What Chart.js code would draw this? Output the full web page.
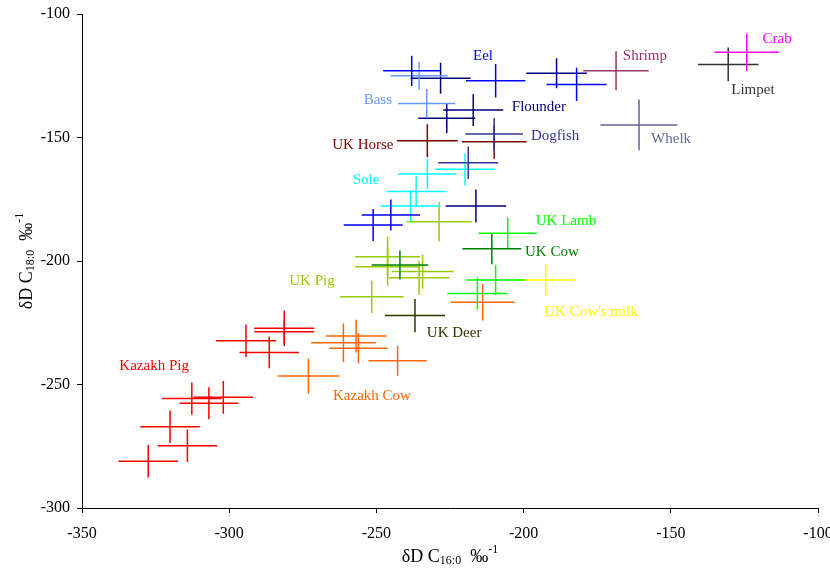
<!DOCTYPE html>
<html>
<head>
<meta charset="utf-8">
<script src="https://cdn.jsdelivr.net/npm/chart.js@4"></script>
<style>
  html, body { margin: 0; padding: 0; background: #fff; }
  #wrap { width: 830px; height: 574px; }
</style>
</head>
<body>
<div id="wrap"><canvas id="chart" width="830" height="574"></canvas></div>
<script>
// each point: [dD C16:0, dD C18:0, x error, y error]
const eel = [[-238.0, -123.0, 9.7, 6.1], [-209.5, -127.0, 10.1, 6.8], [-182.0, -128.5, 10.2, 6.7], [-251.1, -185.4, 10.0, 6.5], [-245.1, -181.4, 9.9, 6.3]];
const bass = [[-235.5, -125.0, 9.7, 5.7], [-232.9, -136.2, 9.7, 5.8]];
const flounder = [[-228.2, -126.0, 10.2, 6.3], [-188.8, -124.0, 10.3, 6.1], [-217.1, -138.9, 10.2, 6.4], [-226.1, -142.2, 9.7, 6.0], [-216.2, -177.7, 10.3, 6.6]];
const dogfish = [[-210.0, -148.6, 9.8, 6.5], [-218.8, -160.2, 10.2, 6.6]];
const ukHorse = [[-232.7, -151.3, 10.3, 6.7], [-210.0, -151.7, 11.0, 6.9]];
const shrimp = [[-168.6, -123.0, 11.1, 7.9]];
const crab = [[-124.2, -115.5, 11.0, 7.6]];
const limpet = [[-130.5, -120.4, 10.3, 6.8]];
const whelk = [[-160.8, -144.9, 13.1, 10.3]];
const sole = [[-232.7, -164.8, 9.9, 6.1], [-219.9, -162.9, 10.2, 6.5], [-236.5, -171.9, 10.0, 6.2], [-238.4, -177.7, 10.2, 6.4]];
const ukPig = [[-228.7, -184.1, 11.1, 7.9], [-246.2, -198.3, 11.0, 8.1], [-246.2, -202.3, 11.0, 7.7], [-234.3, -204.3, 10.5, 6.9], [-235.5, -206.8, 10.3, 6.9], [-251.6, -214.5, 10.8, 6.6]];
const ukCow = [[-210.8, -195.0, 10.0, 6.3], [-242.0, -201.6, 9.6, 5.9]];
const ukLamb = [[-205.4, -188.8, 9.9, 6.4], [-209.5, -207.7, 10.0, 6.1], [-215.7, -213.2, 10.2, 6.5]];
const ukCowMilk = [[-192.5, -207.7, 9.9, 6.4]];
const ukDeer = [[-236.9, -222.1, 10.2, 6.7]];
const kazakhCow = [[-213.9, -216.7, 10.8, 7.4], [-261.2, -233.1, 11.0, 7.8], [-256.9, -230.4, 10.3, 6.6], [-256.1, -235.3, 9.9, 6.1], [-242.8, -240.4, 9.9, 6.1], [-273.1, -246.6, 10.5, 7.1]];
const kazakhPig = [[-281.3, -227.2, 10.2, 7.2], [-281.3, -228.6, 10.2, 5.0], [-294.3, -232.3, 10.2, 6.6], [-286.4, -237.0, 10.1, 6.4], [-312.7, -255.7, 10.1, 6.5], [-306.9, -257.6, 10.0, 6.5], [-302.0, -255.2, 10.1, 6.6], [-320.1, -267.1, 10.1, 6.6], [-314.2, -274.8, 10.1, 6.6], [-327.5, -281.1, 10.1, 6.6]];

const xTicks = [-350, -300, -250, -200, -150, -100];
const yTicks = [-300, -250, -200, -150, -100];

// series: name, points, colour, label anchor (data coords)
const groups = [
  ['Kazakh Pig', kazakhPig, '#ff0000', -325.5, -242.5],
  ['Kazakh Cow', kazakhCow, '#ff6600', -251.5, -254.7],
  ['UK Deer', ukDeer, '#333300', -223.6, -229.1],
  ['UK Cow\'s milk', ukCowMilk, '#ffff00', -177.1, -220.6],
  ['UK Pig', ukPig, '#99cc00', -271.9, -208.1],
  ['UK Lamb', ukLamb, '#00ff00', -185.6, -183.8],
  ['UK Cow', ukCow, '#008000', -190.4, -196.4],
  ['Sole', sole, '#00ffff', -253.5, -167.2],
  ['UK Horse', ukHorse, '#800000', -254.6, -153.0],
  ['Dogfish', dogfish, '#333399', -189.3, -149.4],
  ['Flounder', flounder, '#000080', -194.8, -137.7],
  ['Bass', bass, '#6699ff', -249.5, -134.8],
  ['Eel', eel, '#0000ff', -213.8, -117.0],
  ['Whelk', whelk, '#666699', -149.9, -150.6],
  ['Shrimp', shrimp, '#993366', -158.8, -117.0],
  ['Limpet', limpet, '#333333', -122.1, -130.8],
  ['Crab', crab, '#ff00ff', -113.9, -110.1]
];

const serif = '"Liberation Serif", "Times New Roman", serif';
Chart.defaults.font.family = serif;
Chart.defaults.color = '#000';

// draw the error crosses and the series names
const crossPlugin = {
  id: 'crosses',
  afterDatasetsDraw(chart) {
    const { ctx, chartArea } = chart;
    const xs = chart.scales.x, ys = chart.scales.y;
    ctx.save();
    ctx.beginPath();
    ctx.rect(chartArea.left, chartArea.top, chartArea.width, chartArea.height);
    ctx.clip();
    ctx.lineWidth = 1.5;
    chart.data.datasets.forEach((ds) => {
      ctx.strokeStyle = ds.borderColor;
      ds.data.forEach((p) => {
        const cx = xs.getPixelForValue(p.x), cy = ys.getPixelForValue(p.y);
        ctx.beginPath();
        ctx.moveTo(xs.getPixelForValue(p.x - p.xErr), cy);
        ctx.lineTo(xs.getPixelForValue(p.x + p.xErr), cy);
        ctx.moveTo(cx, ys.getPixelForValue(p.y - p.yErr));
        ctx.lineTo(cx, ys.getPixelForValue(p.y + p.yErr));
        ctx.stroke();
      });
    });
    ctx.restore();

    ctx.save();
    ctx.font = '15px ' + serif;
    ctx.textAlign = 'center';
    ctx.textBaseline = 'middle';
    chart.data.datasets.forEach((ds) => {
      ctx.fillStyle = ds.borderColor;
      ctx.fillText(ds.label, xs.getPixelForValue(ds.labelX), ys.getPixelForValue(ds.labelY));
    });
    ctx.restore();
  },
  afterDraw(chart) {
    const { ctx, chartArea } = chart;
    const xTitle = [['δD C', 0], ['16:0', 1], ['  ‰', 0], ['-1', -1]];
    const yTitle = [['δD C', 0], ['18:0', 1], ['  ‰', 0], ['-1', -1]];
    drawTitle(ctx, xTitle, (chartArea.left + chartArea.right) / 2, chartArea.bottom + 49, 0);
    drawTitle(ctx, yTitle, 27, (chartArea.top + chartArea.bottom) / 2, -Math.PI / 2);
  }
};

function drawTitle(ctx, parts, x, y, angle) {
  ctx.save();
  ctx.translate(x, y);
  ctx.rotate(angle);
  ctx.fillStyle = '#000';
  ctx.textBaseline = 'middle';
  ctx.textAlign = 'left';
  const fontFor = (k) => (k === 0 ? '18px ' : '12px ') + serif;
  let total = 0;
  parts.forEach(([t, k]) => { ctx.font = fontFor(k); total += ctx.measureText(t).width; });
  let pos = -total / 2;
  parts.forEach(([t, k]) => {
    ctx.font = fontFor(k);
    const dy = k === 1 ? 4 : (k === -1 ? -7 : 0);
    ctx.fillText(t, pos, dy);
    pos += ctx.measureText(t).width;
  });
  ctx.restore();
}

const datasets = groups.map(([name, pts, color, lx, ly]) => ({
  label: name,
  data: pts.map(([x, y, xErr, yErr]) => ({ x, y, xErr, yErr })),
  borderColor: color,
  backgroundColor: color,
  pointRadius: 0,
  showLine: false,
  labelX: lx,
  labelY: ly
}));

new Chart(document.getElementById('chart'), {
  type: 'scatter',
  data: { datasets },
  options: {
    responsive: false,
    animation: false,
    layout: { padding: { top: 14, right: 12, left: 0, bottom: 0 } },
    plugins: { legend: { display: false }, tooltip: { enabled: false } },
    scales: {
      x: {
        type: 'linear',
        min: -350,
        max: -100,
        afterBuildTicks: (s) => { s.ticks = xTicks.map((v) => ({ value: v })); },
        afterFit: (s) => { s.height = 66; s.paddingLeft = 0; s.paddingRight = 0; },
        ticks: { font: { size: 16 }, color: '#000', padding: 11, maxRotation: 0 },
        grid: { drawOnChartArea: false, drawTicks: true, tickLength: 5, color: '#000' },
        border: { display: true, color: '#000', width: 1 }
      },
      y: {
        type: 'linear',
        min: -300,
        max: -100,
        afterBuildTicks: (s) => { s.ticks = yTicks.map((v) => ({ value: v })); },
        afterFit: (s) => { s.width = 82; s.paddingTop = 0; s.paddingBottom = 0; },
        ticks: { font: { size: 16 }, color: '#000', padding: 7 },
        grid: { drawOnChartArea: false, drawTicks: true, tickLength: 5, color: '#000' },
        border: { display: true, color: '#000', width: 1 }
      }
    }
  },
  plugins: [crossPlugin]
});
</script>
</body>
</html>
